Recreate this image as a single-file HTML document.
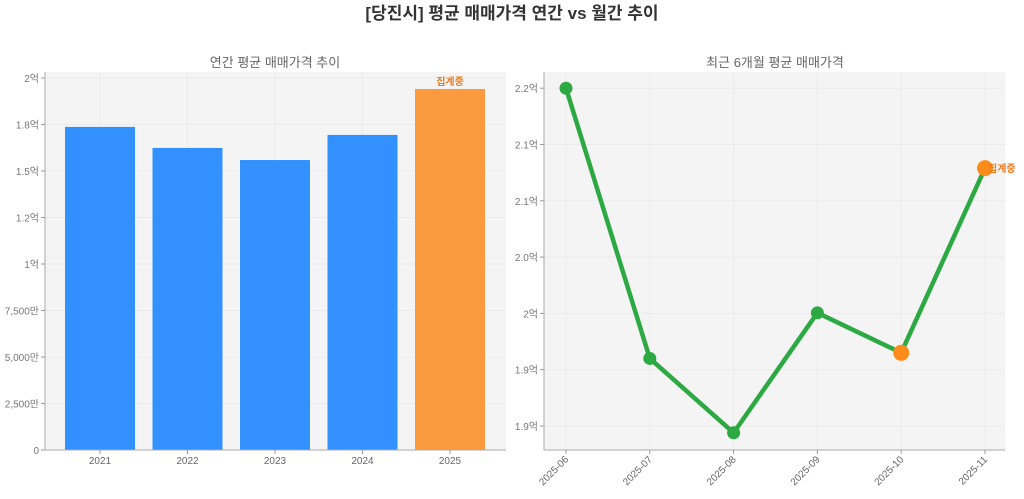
<!DOCTYPE html>
<html><head><meta charset="utf-8"><style>
body{margin:0;background:#fff;font-family:"Liberation Sans","Noto Sans CJK KR",sans-serif}
svg text{font-family:"Liberation Sans","Noto Sans CJK KR",sans-serif}
</style></head><body>
<svg id="c" width="1024" height="494" xmlns="http://www.w3.org/2000/svg">
<text x="512" y="19" text-anchor="middle" font-size="17" font-weight="bold" fill="#333">[당진시] 평균 매매가격 연간 vs 월간 추이</text>
<text x="275" y="67" text-anchor="middle" font-size="13" fill="#666">연간 평균 매매가격 추이</text>
<text x="775" y="67" text-anchor="middle" font-size="13" fill="#666">최근 6개월 평균 매매가격</text>
<g id="L"></g><g id="R"></g>
</svg>
<script>
const years=['2021','2022','2023','2024','2025'];
const yearVals=[173700000,162400000,155900000,169400000,194100000];
const leftTicks=[0,25e6,50e6,75e6,100e6,125e6,150e6,175e6,200e6];
const leftTickLabels=['0','2,500만','5,000만','7,500만','1억','1.2억','1.5억','1.8억','2억'];
const months=['2025-06','2025-07','2025-08','2025-09','2025-10','2025-11'];
const monthVals=[220000000,196000000,189400000,200050000,196500000,212900000];
const rightTicks=[190e6,195e6,200e6,205e6,210e6,215e6,220e6];
const rightTickLabels=['1.9억','1.9억','2억','2.0억','2.1억','2.1억','2.2억'];
const NS='http://www.w3.org/2000/svg';
function mk(p,t,a){const e=document.createElementNS(NS,t);for(const k in a)e.setAttribute(k,a[k]);p.appendChild(e);return e;}
const L=document.getElementById('L');
const lx0=45,lx1=506,ly0=72,ly1=450;
const ly=v=>450-v/200e6*372;
const lx=i=>100+i*87.5;
let bg=mk(L,'rect',{x:lx0,y:ly0,width:lx1-lx0,height:ly1-ly0,fill:'#f4f4f4'});

leftTicks.forEach((t,i)=>{
 mk(L,'line',{x1:lx0,x2:lx1,y1:ly(t),y2:ly(t),stroke:'#ebebeb','stroke-width':1});
 mk(L,'line',{x1:lx0-4,x2:lx0,y1:ly(t),y2:ly(t),stroke:'#999'});
 const tx=mk(L,'text',{x:lx0-6,y:ly(t)+4,'text-anchor':'end','font-size':10,fill:'#777'});tx.textContent=leftTickLabels[i];
 
});
years.forEach((y,i)=>{
 mk(L,'line',{x1:lx(i),x2:lx(i),y1:ly0,y2:ly1,stroke:'#ebebeb'});
 const last=i===years.length-1;
 const r=mk(L,'rect',{x:lx(i)-35,y:ly(yearVals[i]),width:70,height:ly1-ly(yearVals[i]),fill:last?'#fb9a3e':'#3391ff'});
 
 mk(L,'line',{x1:lx(i),x2:lx(i),y1:ly1,y2:ly1+4,stroke:'#999'});
 const tx=mk(L,'text',{x:lx(i),y:464,'text-anchor':'middle','font-size':10,fill:'#666'});tx.textContent=y;
 
 if(last){const a=mk(L,'text',{x:lx(i),y:ly(yearVals[i])-4,'text-anchor':'middle','font-size':10,'font-weight':'bold',fill:'#f07a1a'});a.textContent='집계중';
 }
});
mk(L,'line',{x1:lx0,x2:lx0,y1:ly0,y2:ly1,stroke:'#aaa'});
mk(L,'line',{x1:lx0,x2:lx1,y1:ly1,y2:ly1,stroke:'#aaa'});
const R=document.getElementById('R');
const rx0=544,rx1=1005,ry0=72,ry1=450;
const ry=v=>426-(v-190e6)/5e6*56.3;
const rx=i=>566+i*83.8;
bg=mk(R,'rect',{x:rx0,y:ry0,width:rx1-rx0,height:ry1-ry0,fill:'#f4f4f4'});

rightTicks.forEach((t,i)=>{
 mk(R,'line',{x1:rx0,x2:rx1,y1:ry(t),y2:ry(t),stroke:'#ebebeb'});
 mk(R,'line',{x1:rx0-4,x2:rx0,y1:ry(t),y2:ry(t),stroke:'#999'});
 const tx=mk(R,'text',{x:rx0-6,y:ry(t)+4,'text-anchor':'end','font-size':10,fill:'#777'});tx.textContent=rightTickLabels[i];
 
});
months.forEach((m,i)=>{
 mk(R,'line',{x1:rx(i),x2:rx(i),y1:ry0,y2:ry1,stroke:'#ebebeb'});
 mk(R,'line',{x1:rx(i),x2:rx(i),y1:ry1,y2:ry1+4,stroke:'#999'});
 const tx=mk(R,'text',{x:rx(i)+3,y:ry1+10,'text-anchor':'end','font-size':10,fill:'#666',transform:`rotate(-45 ${rx(i)+3} ${ry1+10})`});tx.textContent=m;
 
});
const line=mk(R,'polyline',{points:monthVals.map((v,i)=>rx(i)+','+ry(v)).join(' '),fill:'none',stroke:'#2ca942','stroke-width':4.5,'stroke-linejoin':'round'});

monthVals.forEach((v,i)=>{
 const o=i>=4;
 const c=mk(R,'circle',{cx:rx(i),cy:ry(v),r:o?8:6.5,fill:o?'#ff8c1a':'#2ca942'});
 
});
const an=mk(R,'text',{x:rx(5)+3,y:ry(monthVals[5])+4,'font-size':10,'font-weight':'bold',fill:'#f07a1a'});an.textContent='집계중';

mk(R,'line',{x1:rx0,x2:rx0,y1:ry0,y2:ry1,stroke:'#aaa'});
mk(R,'line',{x1:rx0,x2:rx1,y1:ry1,y2:ry1,stroke:'#aaa'});
</script>
</body></html>
